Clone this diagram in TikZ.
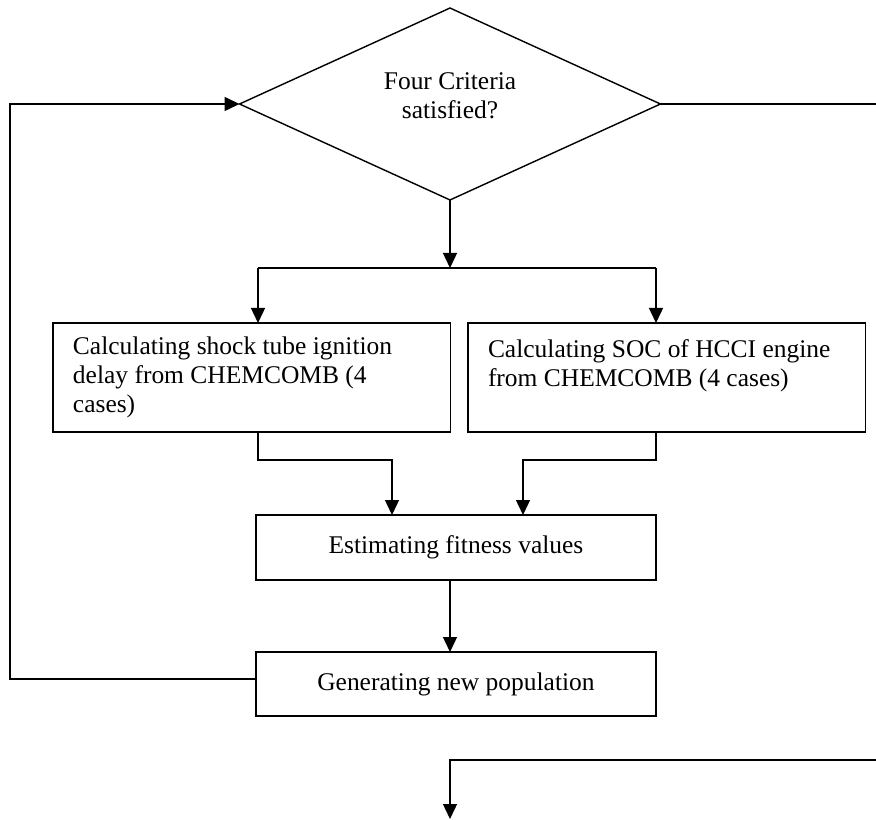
\documentclass[tikz,border=0pt]{standalone}
\usepackage{fontspec}
\setmainfont{Liberation Serif}
\usetikzlibrary{arrows.meta, positioning, shapes.geometric}

\begin{document}
\begin{tikzpicture}[
        x=0.02cm, y=-0.02cm,
        >={Triangle[length=0.3cm, width=0.28cm]},
        line width=0.8pt,
        every node/.style={font=\fontsize{14.5}{16.5}\selectfont, outer sep=0pt},
        decision/.style={diamond, draw, aspect=2.2, minimum width=8.42cm, minimum height=3.84cm, inner sep=0pt, align=center, text depth=0.34cm},
        calcbox/.style={rectangle, draw, anchor=north west, minimum width=7.95cm, minimum height=2.18cm, text width=7.15cm, inner xsep=0.4cm, align=flush left},
        stepbox/.style={rectangle, draw, anchor=north west, minimum width=8cm, align=center}
    ]
    \useasboundingbox (0,0) rectangle (876,820);

    % Decision and process boxes
    \node [decision] (crit) at (450,104) {Four Criteria\\satisfied?};
    \node [calcbox] (shock) at (53,323) {Calculating shock tube ignition\\delay from CHEMCOMB (4\\cases)};
    \node [calcbox] (soc) at (468,323) {Calculating SOC of HCCI engine\\from CHEMCOMB (4 cases)\\\mbox{}};
    \node [stepbox, minimum height=1.3cm] (fitness) at (256,515) {Estimating fitness values};
    \node [stepbox, minimum height=1.28cm] (newpop) at (256,652) {Generating new population};

    % Bend points of the connectors
    \coordinate (fork) at (450,268);
    \coordinate (forkL) at (258,268);
    \coordinate (forkR) at (656,268);
    \coordinate (joinL) at (392,460);
    \coordinate (joinR) at (523,460);
    \coordinate (loopL) at (10,104);
    \coordinate (exitT) at (876,104);
    \coordinate (exitB) at (876,760);
    \coordinate (nextD) at (450,819);

    % Connectors
    \draw[->] (crit.south) -- (fork);
    \draw (forkL) -- (forkR);
    \draw[->] (forkL) -- (forkL |- shock.north);
    \draw[->] (forkR) -- (forkR |- soc.north);
    \draw[->] (forkL |- shock.south) |- (joinL) -- (joinL |- fitness.north);
    \draw[->] (forkR |- soc.south) |- (joinR) -- (joinR |- fitness.north);
    \draw[->] (fitness.south -| crit.south) -- (newpop.north -| crit.south);
    \draw[->] ([yshift=0.1cm]newpop.west) -| (loopL) -- (crit.west);
    \draw (crit.east) -- (exitT);
    \draw[->] (exitB) -| (nextD);
\end{tikzpicture}
\end{document}
